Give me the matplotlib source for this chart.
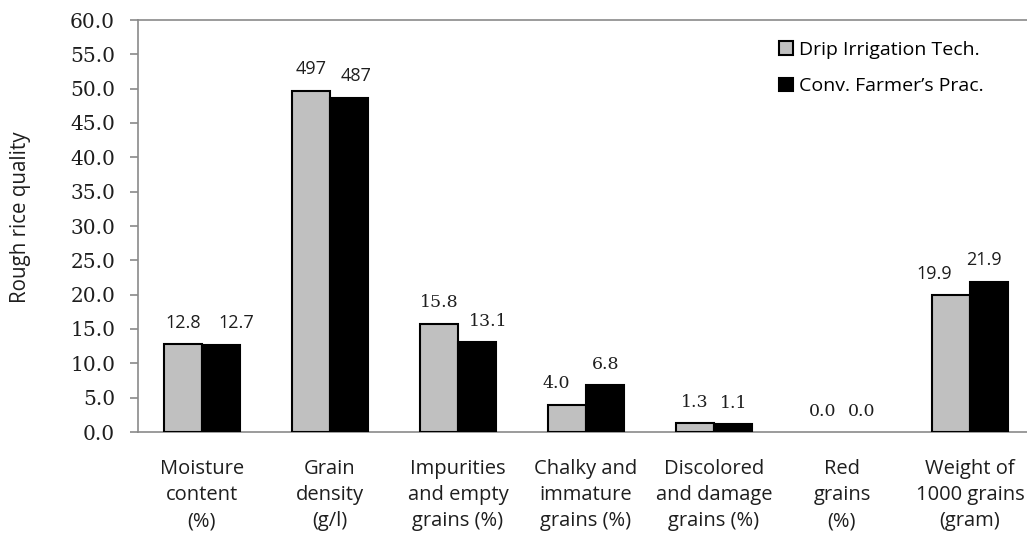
import matplotlib
matplotlib.use("Agg")
import matplotlib.pyplot as plt
import numpy as np
from matplotlib.patches import Patch

categories = ["Moisture\ncontent\n(%)", "Grain\ndensity\n(g/l)", "Impurities\nand empty\ngrains (%)",
              "Chalky and\nimmature\ngrains (%)", "Discolored\nand damage\ngrains (%)",
              "Red\ngrains\n(%)", "Weight of\n1000 grains\n(gram)"]
drip_values = [12.8, 49.7, 15.8, 4.0, 1.3, 0.0, 19.9]
conv_values = [12.7, 48.7, 13.1, 6.8, 1.1, 0.0, 21.9]
drip_labels = ["12.8", "497", "15.8", "4.0", "1.3", "0.0", "19.9"]
conv_labels = ["12.7", "487", "13.1", "6.8", "1.1", "0.0", "21.9"]
series_names = ["Drip Irrigation Tech.", "Conv. Farmer\u2019s Prac."]
yticks = [0, 5, 10, 15, 20, 25, 30, 35, 40, 45, 50, 55, 60]

# styling helpers (not data)
label_sans = [True, True, False, False, False, False, True]
drip_nudge_px = [0, 0, 0, -11, 0, 0, -17]
conv_nudge_px = [15, 7, 11, 0, 0, 0, -5]

SANS = "Open Sans"
SERIF = "DejaVu Serif"
TXT = "#1e1e1e"
GRAY_LINE = "#8a8a8a"

fig = plt.figure(figsize=(10.27, 5.33), dpi=100)
ax = fig.add_axes([138/1027, 1-432/533, 896/1027, (432-20)/533])

x = np.arange(len(categories))
w = 0.30
drip_lw = [1.5 if v > 0 else 0 for v in drip_values]
conv_lw = [1.5 if v > 0 else 0 for v in conv_values]
ax.bar(x - w/2, drip_values, w, color="#c0c0c0", edgecolor="black", linewidth=drip_lw, zorder=3)
ax.bar(x + w/2, conv_values, w, color="black", edgecolor="black", linewidth=conv_lw, zorder=3)

ax.set_xlim(-0.5, len(categories) - 0.5)
ax.set_ylim(0, 60)
ax.set_yticks(yticks)
ax.set_yticklabels([f"{v:.1f}" for v in yticks], fontfamily=SERIF, fontsize=14.5, color=TXT)
ax.tick_params(axis="y", direction="out", length=5.5, width=1.2, color=GRAY_LINE, pad=11)
ax.set_xticks(x)
ax.set_xticklabels(categories, fontfamily=SANS, fontsize=14.5, color=TXT, linespacing=1.4)
ax.tick_params(axis="x", length=0, pad=19.5)

for s in ["left", "top", "bottom", "right"]:
    ax.spines[s].set_color(GRAY_LINE)
    ax.spines[s].set_linewidth(1.2)

ax.set_ylabel("Rough rice quality", fontfamily=SANS, fontsize=14.8, color=TXT)
ax.yaxis.set_label_coords(-0.119, 0.522)

def put_labels(xs, vals, labels, nudges):
    for xi, v, lab, nd, sans in zip(xs, vals, labels, nudges, label_sans):
        ax.annotate(lab, (xi, v), xytext=(nd * 0.72, 9), textcoords="offset points",
                    ha="center", va="bottom", fontsize=13 if sans else 12.5,
                    fontfamily=SANS if sans else SERIF, color=TXT)

put_labels(x - w/2, drip_values, drip_labels, drip_nudge_px)
put_labels(x + w/2, conv_values, conv_labels, conv_nudge_px)

handles = [Patch(facecolor="#c0c0c0", edgecolor="black", linewidth=1.5),
           Patch(facecolor="black", edgecolor="black", linewidth=1.5)]
ax.legend(handles, series_names, loc="upper left", bbox_to_anchor=((779-138)/896, 1-21/412),
          frameon=False, prop={"family": SANS, "size": 14}, handlelength=0.7, handleheight=0.7,
          handletextpad=0.35, labelspacing=0.95, borderpad=0, borderaxespad=0)

fig.savefig("out.png", dpi=100)
